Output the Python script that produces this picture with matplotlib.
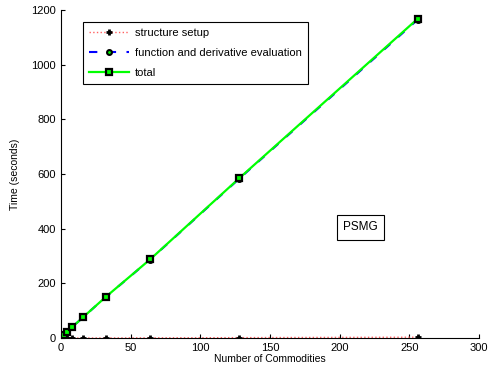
import matplotlib.pyplot as plt
import numpy as np

plt.rcParams['font.family'] = ['Liberation Sans', 'DejaVu Sans']

# commodities and timings (seconds)
commodities = [1, 2, 4, 8, 16, 32, 64, 128, 256]
structure_setup = [0.02, 0.03, 0.06, 0.1, 0.2, 0.4, 0.8, 1.6, 3.2]
total = [5, 10, 21, 40, 77, 150, 288, 585, 1168]
func_eval = [t - s for t, s in zip(total, structure_setup)]

fig = plt.figure(figsize=(4.9, 3.79), dpi=100)
ax = fig.add_axes([0.1245, 0.108, 0.853, 0.8656])

ax.plot(commodities, structure_setup, color='#ff6060', linestyle=':', linewidth=1,
        marker='+', markersize=4.5, markeredgewidth=2, markeredgecolor='black',
        label='structure setup')
ax.plot(commodities, func_eval, color='#0000ff', linestyle='--', linewidth=1.5,
        dashes=(4, 5), marker='o', markersize=3.5, markerfacecolor='#00ff00',
        markeredgecolor='black', markeredgewidth=1.5,
        label='function and derivative evaluation')
ax.plot(commodities, total, color='#00ff00', linestyle='-', linewidth=1.6,
        marker='s', markersize=5, markerfacecolor='#00ff00',
        markeredgecolor='black', markeredgewidth=1.6, label='total')

ax.set_xlim(0, 300)
ax.set_ylim(0, 1200)
ax.set_xticks(np.arange(0, 301, 50))
ax.set_yticks(np.arange(0, 1201, 200))
ax.spines['top'].set_visible(False)
ax.spines['right'].set_visible(False)
ax.tick_params(direction='in', length=3, labelsize=8)
ax.set_xlabel('Number of Commodities', fontsize=7.5, labelpad=1)
ax.set_ylabel('Time (seconds)', fontsize=7.5, labelpad=8)

# stray tick label left of the axis (cropped in the original)
ax.text(-50, -0.035, '-50', transform=ax.get_xaxis_transform(), ha='center',
        va='top', fontsize=8, clip_on=False)

ax.text(215, 406, 'PSMG', ha='center', va='center', fontsize=8.5,
        bbox=dict(boxstyle='square,pad=0.55', facecolor='white', edgecolor='black', linewidth=0.8))

leg = ax.legend(loc='upper left', bbox_to_anchor=(0.053, 0.963), borderaxespad=0,
                fontsize=8, frameon=True, fancybox=False, edgecolor='black',
                framealpha=1, handlelength=3.6, handletextpad=0.5, borderpad=0.55,
                labelspacing=0.9)
leg.get_frame().set_linewidth(0.8)

fig.savefig('out.png', dpi=100)
